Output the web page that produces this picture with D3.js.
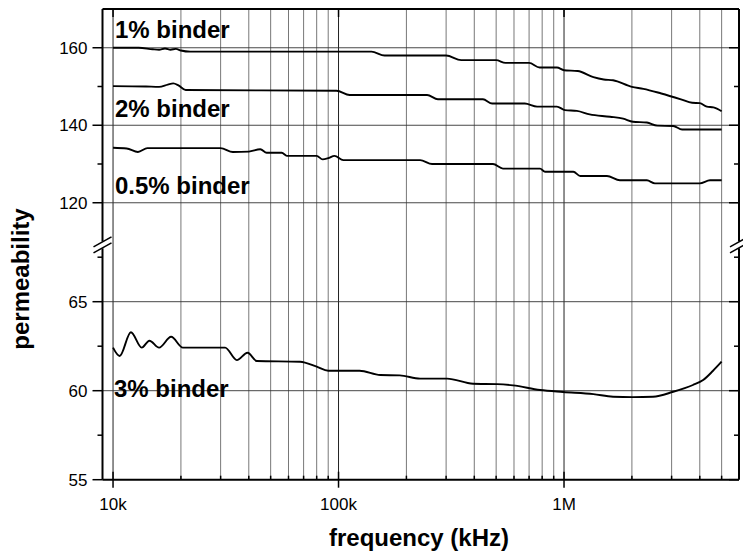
<!DOCTYPE html>
<html>
<head>
<meta charset="utf-8">
<script src="https://cdn.jsdelivr.net/npm/d3@7"></script>
<style>
  body { margin: 0; background: #fff; }
  svg { display: block; font-family: "Liberation Sans", Arial, sans-serif; }
</style>
</head>
<body>
<svg width="743" height="554"></svg>
<script>
// frequency in kHz, permeability values
const freq05 = [10000, 11500, 12900, 14200, 30000, 34000, 40000, 45000, 48000, 56000, 59000, 80000, 85000, 90000, 96000, 105000, 230000, 260000, 484000, 536000, 783000, 824000, 1100000, 1180000, 1550000, 1770000, 2330000, 2530000, 4000000, 4440000, 5000000]
const perm05 = [134.2, 134.0, 133.1, 134.1, 134.1, 133.1, 133.2, 133.8, 132.9, 132.9, 132.1, 132.1, 131.2, 131.5, 132.1, 131.0, 131.0, 130.0, 130.0, 128.8, 128.8, 128.0, 128.0, 126.9, 126.9, 125.8, 125.8, 125.0, 125.0, 125.8, 125.8]

const freq1 = [10000, 13000, 15000, 16000, 17000, 18000, 19000, 20000, 22000, 100000, 140000, 160000, 300000, 350000, 500000, 550000, 700000, 780000, 930000, 1000000, 1150000, 1350000, 1500000, 1650000, 2000000, 2250000, 2700000, 3300000, 3700000, 4000000, 4300000, 4600000, 5000000]
const perm1 = [160.0, 160.0, 159.6, 159.5, 159.8, 159.5, 159.7, 159.3, 159.0, 159.0, 159.0, 158.0, 158.0, 156.8, 156.8, 156.1, 156.1, 154.9, 154.9, 154.2, 154.0, 152.4, 151.8, 151.6, 149.9, 149.4, 148.2, 146.7, 145.8, 145.7, 144.8, 144.6, 143.6]

const freq2 = [10000, 14000, 16000, 17500, 18500, 19500, 21000, 98000, 112000, 247000, 276000, 437000, 480000, 670000, 760000, 930000, 1010000, 1140000, 1300000, 1600000, 1830000, 2020000, 2330000, 2590000, 3050000, 3340000, 5000000]
const perm2 = [150.1, 150.0, 149.9, 150.5, 150.8, 150.3, 149.1, 148.9, 147.8, 147.8, 146.7, 146.7, 145.6, 145.6, 144.8, 144.8, 143.9, 143.7, 142.8, 142.2, 141.7, 140.9, 140.7, 139.9, 139.8, 138.9, 138.9]

const freq3 = [10000, 10700, 12000, 13400, 14500, 16000, 18100, 20400, 31400, 35400, 39500, 43400, 67500, 80000, 90100, 124000, 153000, 187000, 230000, 303000, 395000, 505000, 594000, 783000, 990000, 1350000, 1650000, 2020000, 2480000, 3050000, 3730000, 4140000, 4580000, 5000000]
const perm3 = [62.42, 61.95, 63.28, 62.42, 62.81, 62.42, 63.03, 62.42, 62.42, 61.72, 62.13, 61.67, 61.63, 61.35, 61.12, 61.12, 60.88, 60.86, 60.68, 60.68, 60.39, 60.37, 60.30, 60.04, 59.93, 59.81, 59.66, 59.64, 59.66, 59.94, 60.32, 60.60, 61.12, 61.63]

const xTickValues = [10000, 100000, 1000000]
const xTickLabels = ['10k', '100k', '1M']
const yUpperTicks = [120, 140, 160]
const yUpperMinor = [130, 150]
const yLowerTicks = [55, 60, 65]
const yLowerMinor = [57.5, 62.5, 67.5]

const seriesLabels = ['1% binder', '2% binder', '0.5% binder', '3% binder']

const svg = d3.select('svg')
const pLeft = 102.5, pRight = 739, pTop = 9, pBottom = 479.7
const breakTop = 241.5, breakBot = 248.3

const x = d3.scaleLog().domain([8980, 5970000]).range([pLeft, pRight])
const yUp = d3.scaleLinear().domain([110, 170]).range([breakTop, pTop])
const yLo = d3.scaleLinear().domain([55, 68]).range([pBottom, breakBot])

// vertical grid
const grid = x.ticks().filter(d => d > 9500 && d < 5970000)
svg.append('g')
    .selectAll('line')
    .data(grid)
    .enter()
    .append('line')
    .attr('x1', d => x(d)).attr('x2', d => x(d))
    .attr('y1', pTop).attr('y2', pBottom)
    .attr('stroke', d => xTickValues.includes(d) ? '#222' : '#555')
    .attr('stroke-width', d => xTickValues.includes(d) ? 1 : 0.8)

// horizontal grid
svg.append('g')
    .selectAll('line')
    .data(yUpperTicks)
    .enter()
    .append('line')
    .attr('x1', pLeft).attr('x2', pRight)
    .attr('y1', d => yUp(d)).attr('y2', d => yUp(d))
    .attr('stroke', '#333').attr('stroke-width', 0.9)
svg.append('g')
    .selectAll('line')
    .data(yLowerTicks.filter(d => d > 55))
    .enter()
    .append('line')
    .attr('x1', pLeft).attr('x2', pRight)
    .attr('y1', d => yLo(d)).attr('y2', d => yLo(d))
    .attr('stroke', '#333').attr('stroke-width', 0.9)

// curves
function drawCurve(fs, vs, ys) {
    let line = d3.line()
	.x((d, i) => x(fs[i]))
	.y(d => ys(d))
	.curve(d3.curveMonotoneX)
    svg.append('path')
	.attr('d', line(vs))
	.attr('fill', 'none')
	.attr('stroke', '#000')
	.attr('stroke-width', 1.9)
}
drawCurve(freq1, perm1, yUp)
drawCurve(freq2, perm2, yUp)
drawCurve(freq05, perm05, yUp)
drawCurve(freq3, perm3, yLo)

// frame
const frame = svg.append('g').attr('stroke', '#000').attr('stroke-width', 2)
frame.append('line').attr('x1', pLeft).attr('x2', pRight).attr('y1', pTop).attr('y2', pTop)
frame.append('line').attr('x1', pLeft).attr('x2', pRight).attr('y1', pBottom).attr('y2', pBottom)
for (let xx of [pLeft, pRight]) {
    frame.append('line').attr('x1', xx).attr('x2', xx).attr('y1', pTop).attr('y2', breakTop)
    frame.append('line').attr('x1', xx).attr('x2', xx).attr('y1', breakBot).attr('y2', pBottom)
}

// y ticks
const ticks = svg.append('g').attr('stroke', '#000').attr('stroke-width', 1.5)
function yTicks(vals, ys, len) {
    vals.forEach(v => {
	ticks.append('line').attr('x1', pLeft - len).attr('x2', pLeft).attr('y1', ys(v)).attr('y2', ys(v))
	ticks.append('line').attr('x1', pRight - len).attr('x2', pRight).attr('y1', ys(v)).attr('y2', ys(v))
    })
}
yTicks(yUpperTicks, yUp, 10)
yTicks(yUpperMinor, yUp, 5)
yTicks(yLowerTicks, yLo, 10)
yTicks(yLowerMinor, yLo, 5)

// x ticks
xTickValues.forEach(v => {
    ticks.append('line').attr('x1', x(v)).attr('x2', x(v)).attr('y1', pBottom - 8).attr('y2', pBottom + 8)
    ticks.append('line').attr('x1', x(v)).attr('x2', x(v)).attr('y1', pTop).attr('y2', pTop + 8)
})
grid.filter(d => !xTickValues.includes(d)).forEach(v => {
    ticks.append('line').attr('x1', x(v)).attr('x2', x(v)).attr('y1', pBottom - 4).attr('y2', pBottom)
})

// break marks
function breakMark(xx) {
    const yc = (breakTop + breakBot) / 2
    for (let dy of [-3, 3]) {
	svg.append('line')
	    .attr('x1', xx - 9).attr('y1', yc + dy + 5)
	    .attr('x2', xx + 9).attr('y2', yc + dy - 5)
	    .attr('stroke', '#000').attr('stroke-width', 1.6)
    }
}
breakMark(pLeft)
breakMark(pRight)

// tick labels
const labels = svg.append('g').style('font-size', '17px').attr('fill', '#000')
yUpperTicks.forEach(v => {
    labels.append('text').attr('x', pLeft - 15).attr('y', yUp(v)).attr('dy', '0.35em')
	.attr('text-anchor', 'end').text(v)
})
yLowerTicks.forEach(v => {
    labels.append('text').attr('x', pLeft - 15).attr('y', yLo(v)).attr('dy', '0.35em')
	.attr('text-anchor', 'end').text(v)
})
xTickValues.forEach((v, i) => {
    labels.append('text').attr('x', x(v)).attr('y', 510)
	.attr('text-anchor', 'middle').text(xTickLabels[i])
})

// series labels
const lab = svg.append('g').style('font-size', '24px').style('font-weight', 'bold')
lab.append('text').attr('x', 115).attr('y', 37.5).text(seriesLabels[0])
lab.append('text').attr('x', 115).attr('y', 117).text(seriesLabels[1])
lab.append('text').attr('x', 115).attr('y', 193.5).text(seriesLabels[2])
lab.append('text').attr('x', 114).attr('y', 397).text(seriesLabels[3])

// axis titles
svg.append('text')
    .attr('transform', 'translate(28.5,279) rotate(-90)')
    .attr('text-anchor', 'middle')
    .style('font-size', '24px').style('font-weight', 'bold')
    .text('permeability')
svg.append('text')
    .attr('x', 419).attr('y', 546)
    .attr('text-anchor', 'middle')
    .style('font-size', '24px').style('font-weight', 'bold')
    .text('frequency (kHz)')
</script>
</body>
</html>
